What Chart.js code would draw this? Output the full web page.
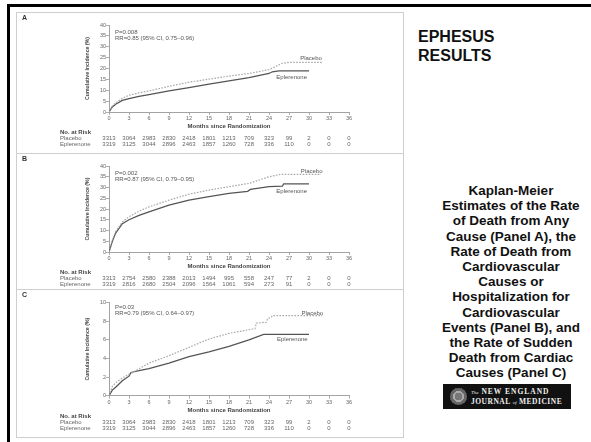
<!DOCTYPE html>
<html>
<head>
<meta charset="utf-8">
<script src="https://cdn.jsdelivr.net/npm/chart.js@4.4.1/dist/chart.umd.min.js"></script>
<style>
  html, body { margin: 0; padding: 0; background: #fff; }
  body { width: 591px; height: 442px; position: relative; overflow: hidden;
         font-family: "Liberation Sans", Arial, sans-serif; }
  #topbar { position: absolute; left: 7px; top: 4px; width: 584px; height: 3px; background: #000; }
  #leftbar { position: absolute; left: 7px; top: 4px; width: 3px; height: 438px; background: #000; }
  #frame { position: absolute; left: 16px; top: 12px; width: 386px; height: 424px; border: 1px solid #cfcfcf; }
  .divider { position: absolute; left: 16px; width: 388px; height: 1px; background: #cfcfcf; }
  .panel { position: absolute; left: 16px; width: 387px; }
  #title { position: absolute; left: 418px; top: 27px; font-weight: bold; font-size: 16px; line-height: 19px; color: #111; }
  #caption { position: absolute; left: 430px; width: 162px; top: 183px; text-align: center;
             font-weight: bold; font-size: 13.5px; line-height: 15.2px; color: #111; }
  #logo { position: absolute; left: 443px; top: 384px; width: 128px; height: 25px; background: #111; overflow: hidden; }
  #seal { position: absolute; left: 7px; top: 4px; width: 17px; height: 17px; border-radius: 50%;
          background: radial-gradient(circle, #777 0 30%, #aaa 31% 45%, #666 46% 70%, #999 71% 100%); }
  #logo .l1, #logo .l2 { position: absolute; left: 28px; color: #eee; font-family: "Liberation Serif", "DejaVu Serif", serif;
          font-weight: bold; font-size: 7.5px; white-space: nowrap; }
  #logo .l1 { top: 3px; letter-spacing: 1px; }
  #logo .l2 { top: 13px; letter-spacing: 0.5px; }
  #logo small { font-size: 5px; letter-spacing: 0; font-style: italic; font-weight: normal; }
</style>
</head>
<body>
<div id="topbar"></div>
<div id="leftbar"></div>
<div id="frame"></div>
<div class="divider" style="top:153px"></div>
<div class="divider" style="top:289px"></div>

<canvas id="panelA" class="panel" style="top:12px" width="387" height="141"></canvas>
<canvas id="panelB" class="panel" style="top:153px" width="387" height="136"></canvas>
<canvas id="panelC" class="panel" style="top:289px" width="387" height="148"></canvas>

<div id="title">EPHESUS<br>RESULTS</div>
<div id="caption">Kaplan-Meier<br>Estimates of the Rate<br>of Death from Any<br>Cause (Panel A), the<br>Rate of Death from<br>Cardiovascular<br>Causes or<br>Hospitalization for<br>Cardiovascular<br>Events (Panel B), and<br>the Rate of Sudden<br>Death from Cardiac<br>Causes (Panel C)</div>
<div id="logo"><div id="seal"></div>
  <div class="l1"><small>The</small> NEW ENGLAND</div>
  <div class="l2">JOURNAL <small>of</small> MEDICINE</div>
</div>

<script>
// Months shown on the x axis and used for the numbers-at-risk table
const riskMonths = [0, 3, 6, 9, 12, 15, 18, 21, 24, 27, 30, 33, 36];

// Panel A: death from any cause, cumulative incidence (%) by month
const placeboA = [[0,0],[0.5,2.8],[1,4.2],[2,6.3],[3,7.7],[4.5,8.8],[6,9.7],[9,11.8],[12,13.7],[15,15.1],[18,16.5],[21,17.7],[24,19.5],[25.4,21.5],[25.8,22.3],[27,22.8],[32,22.8]];
const eplerenoneA = [[0,0],[0.5,2.3],[1,3.6],[2,5.3],[3,6.2],[4.5,7.2],[6,8.0],[9,9.7],[12,11.2],[15,12.8],[18,14.3],[21,15.8],[24,17.7],[24.5,18.5],[25.5,18.9],[30,18.9]];
const riskPlaceboA = [3313, 3064, 2983, 2830, 2418, 1801, 1213, 709, 323, 99, 2, 0, 0];
const riskEplerenoneA = [3319, 3125, 3044, 2896, 2463, 1857, 1260, 728, 336, 110, 0, 0, 0];

// Panel B: cardiovascular death or hospitalization
const placeboB = [[0,0],[0.5,5.5],[1,9.5],[2,14],[3,16.4],[4.5,19],[6,21],[9,24.1],[12,26.9],[15,28.8],[18,30.4],[21,31.9],[24,35],[25.7,36.1],[31.8,36.1]];
const eplerenoneB = [[0,0],[0.5,5],[1,8.8],[2,13.2],[3,15],[4.5,17],[6,18.7],[9,21.8],[12,24.1],[15,25.8],[18,27.3],[20.8,28.2],[21.2,29.1],[24,30.4],[26,30.6],[26.2,31.7],[30,31.7]];
const riskPlaceboB = [3313, 2754, 2580, 2388, 2013, 1494, 995, 558, 247, 77, 2, 0, 0];
const riskEplerenoneB = [3319, 2816, 2680, 2504, 2096, 1564, 1061, 594, 273, 91, 0, 0, 0];

// Panel C: sudden death from cardiac causes
const placeboC = [[0,0],[0.5,1.0],[1,1.4],[2,1.9],[3,2.3],[4.5,2.9],[6,3.5],[9,4.3],[12,5.2],[15,6.1],[18,6.7],[21,7.1],[21.9,7.2],[22.1,7.8],[23.6,7.9],[23.8,8.3],[24.3,8.4],[24.5,8.6],[32,8.6]];
const eplerenoneC = [[0,0],[0.5,0.6],[1,0.9],[2,1.6],[3,2.1],[3.3,2.5],[4.5,2.7],[6,2.9],[9,3.5],[12,4.2],[15,4.7],[18,5.3],[21,6.0],[23.2,6.6],[30,6.6]];
const riskPlaceboC = riskPlaceboA;
const riskEplerenoneC = riskEplerenoneA;

const FONT = "'Liberation Sans', Arial, sans-serif";
Chart.defaults.font.family = FONT;
Chart.defaults.color = '#555';

const toXY = arr => arr.map(([x, y]) => ({ x, y }));

// Draws the panel letter, P value / RR text, curve labels and numbers at risk
const panelDecor = {
  id: 'panelDecor',
  afterDraw(chart, args, o) {
    const ctx = chart.ctx;
    const xs = chart.scales.x, ys = chart.scales.y;
    const area = chart.chartArea;
    ctx.save();
    ctx.fillStyle = '#333';
    ctx.font = 'bold 7px ' + FONT;
    ctx.textAlign = 'left';
    ctx.textBaseline = 'middle';
    ctx.fillText(o.letter, 6, 6.5);

    ctx.fillStyle = '#555';
    ctx.font = '6px ' + FONT;
    ctx.fillText(o.pText, area.left + 6, area.top + o.pOffset);
    ctx.fillText(o.rrText, area.left + 6, area.top + o.pOffset + 6.3);

    ctx.textAlign = 'center';
    o.labels.forEach(l => ctx.fillText(l.text, xs.getPixelForValue(l.x), ys.getPixelForValue(l.y)));

    const base = area.bottom;
    ctx.textAlign = 'left';
    ctx.fillStyle = '#444';
    ctx.font = 'bold 6px ' + FONT;
    ctx.fillText('No. at Risk', 44, base + 20.5);
    ctx.fillStyle = '#666';
    ctx.font = '6px ' + FONT;
    ctx.fillText('Placebo', 44, base + 26.3);
    ctx.fillText('Eplerenone', 44, base + 32.2);
    ctx.textAlign = 'center';
    riskMonths.forEach((m, i) => {
      const px = xs.getPixelForValue(m);
      ctx.fillText(String(o.riskP[i]), px, base + 26.3);
      ctx.fillText(String(o.riskE[i]), px, base + 32.2);
    });
    ctx.restore();
  }
};

function makePanel(id, cfg) {
  const axisGrid = { drawOnChartArea: false, drawTicks: true, tickLength: 3, tickColor: '#999', tickWidth: 0.8 };
  const axisBorder = { display: true, color: '#999', width: 0.9 };
  return new Chart(document.getElementById(id), {
    type: 'line',
    data: {
      datasets: [
        { label: 'Placebo', data: toXY(cfg.placebo), borderColor: '#a8a8a8', borderWidth: 1.2,
          borderDash: [1.6, 1.4], pointRadius: 0, tension: 0, fill: false },
        { label: 'Eplerenone', data: toXY(cfg.eplerenone), borderColor: '#555', borderWidth: 1.3,
          pointRadius: 0, tension: 0, fill: false }
      ]
    },
    options: {
      responsive: false,
      animation: false,
      events: [],
      layout: { padding: { left: 68, right: 54, top: cfg.top, bottom: cfg.bottom } },
      plugins: {
        legend: { display: false },
        tooltip: { enabled: false },
        panelDecor: cfg.decor
      },
      scales: {
        x: {
          type: 'linear', min: 0, max: 36,
          afterBuildTicks: s => { s.ticks = riskMonths.map(v => ({ value: v })); },
          afterFit: s => { s.height = 18; },
          grid: axisGrid, border: axisBorder,
          ticks: { font: { size: 5.5 }, color: '#666', padding: 0, maxRotation: 0, autoSkip: false },
          title: { display: true, text: 'Months since Randomization', font: { size: 6, weight: 'bold' },
                   color: '#444', padding: { top: 0, bottom: 0 } }
        },
        y: {
          type: 'linear', min: 0, max: cfg.yMax,
          afterFit: s => { s.width = 25; },
          grid: axisGrid, border: axisBorder,
          ticks: { stepSize: cfg.yStep, font: { size: 5.5 }, color: '#666', padding: 0 },
          title: { display: true, text: 'Cumulative Incidence (%)', font: { size: 5.2, weight: 'bold' },
                   color: '#444', padding: { top: 0, bottom: 0 } }
        }
      }
    },
    plugins: [panelDecor]
  });
}

makePanel('panelA', {
  placebo: placeboA, eplerenone: eplerenoneA, yMax: 40, yStep: 5, top: 13, bottom: 23,
  decor: { letter: 'A', pText: 'P=0.008', rrText: 'RR=0.85 (95% CI, 0.75\u20130.96)', pOffset: 7,
           riskP: riskPlaceboA, riskE: riskEplerenoneA,
           labels: [{ text: 'Placebo', x: 30.3, y: 24.8 }, { text: 'Eplerenone', x: 27.4, y: 16.1 }] }
});
makePanel('panelB', {
  placebo: placeboB, eplerenone: eplerenoneB, yMax: 40, yStep: 5, top: 13, bottom: 19,
  decor: { letter: 'B', pText: 'P=0.002', rrText: 'RR=0.87 (95% CI, 0.79\u20130.95)', pOffset: 7,
           riskP: riskPlaceboB, riskE: riskEplerenoneB,
           labels: [{ text: 'Placebo', x: 30.4, y: 37.7 }, { text: 'Eplerenone', x: 27.4, y: 28.4 }] }
});
makePanel('panelC', {
  placebo: placeboC, eplerenone: eplerenoneC, yMax: 10, yStep: 1, top: 13.7, bottom: 23.3,
  decor: { letter: 'C', pText: 'P=0.03', rrText: 'RR=0.79 (95% CI, 0.64\u20130.97)', pOffset: 4.5,
           riskP: riskPlaceboC, riskE: riskEplerenoneC,
           labels: [{ text: 'Placebo', x: 30.5, y: 8.9 }, { text: 'Eplerenone', x: 27.5, y: 6.1 }] }
});
</script>
</body>
</html>
